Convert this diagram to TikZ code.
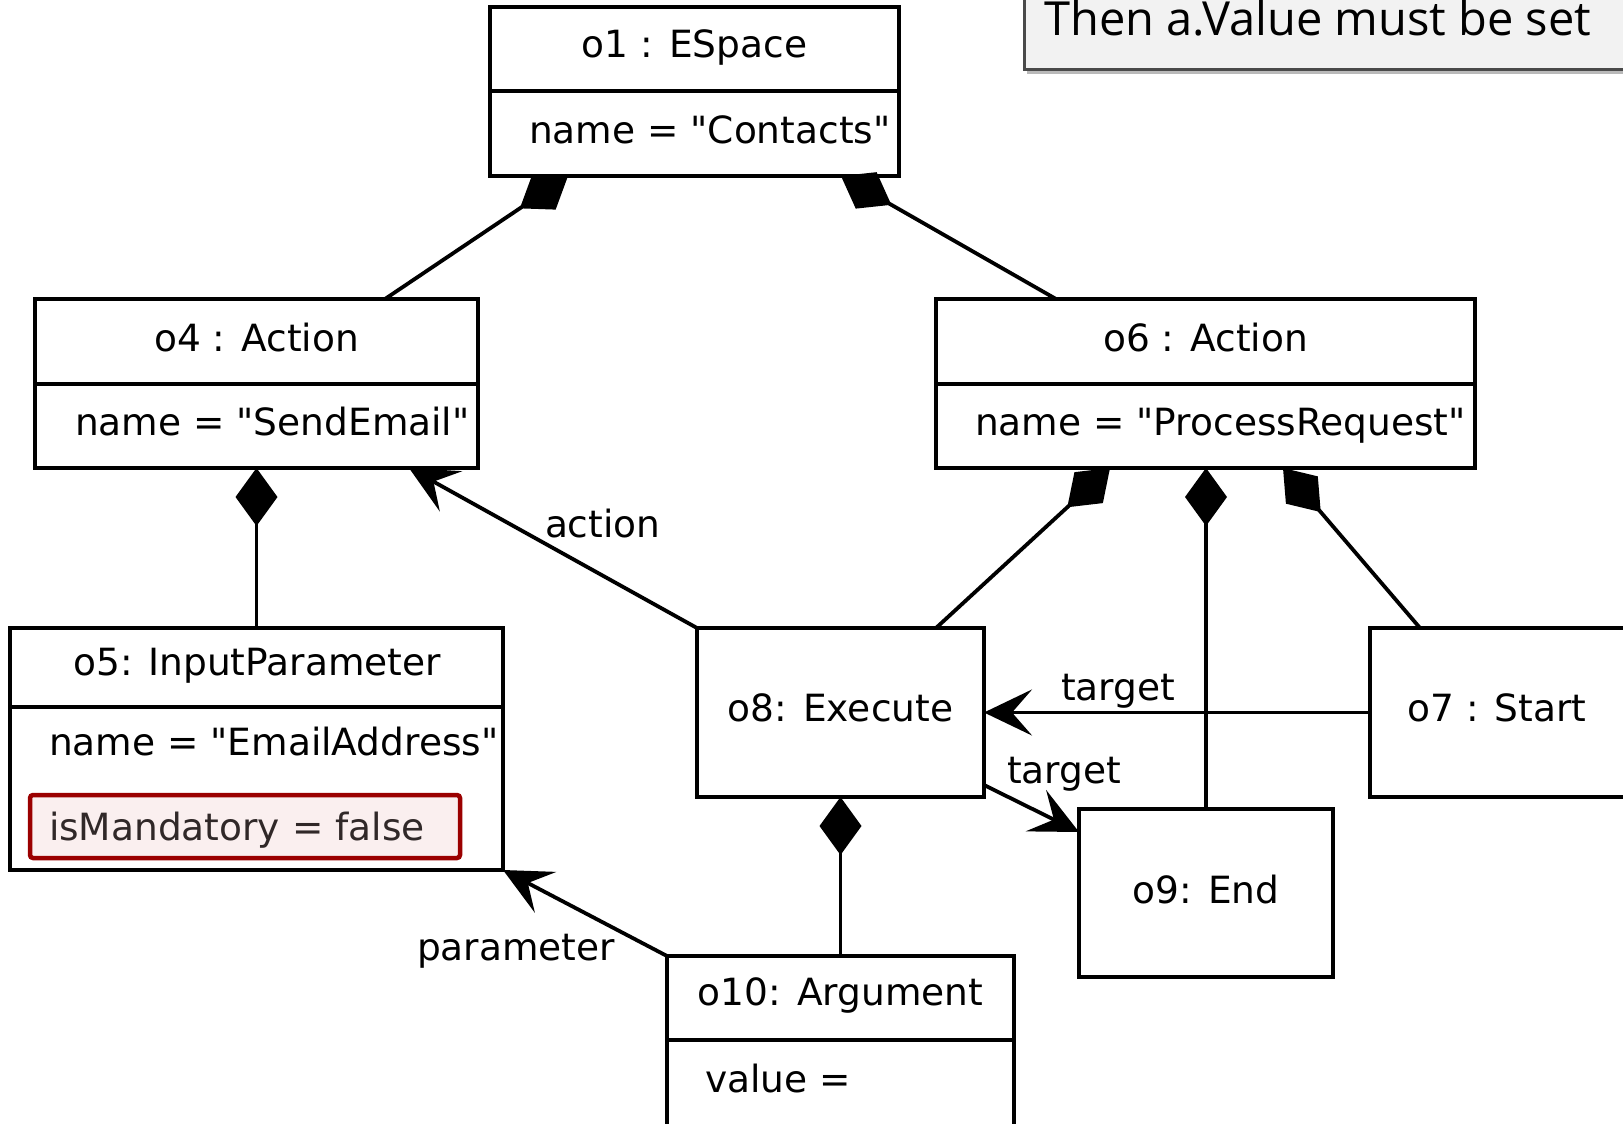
\documentclass[tikz,border=0pt]{standalone}
\usepackage{fontspec}
\setmainfont{DejaVu Sans}[Ligatures=TeXOff]
\newfontfamily\notefont{Open Sans}
\usetikzlibrary{arrows.meta}
\definecolor{redline}{HTML}{9B0000}
\definecolor{redfill}{HTML}{FAEFEF}
\definecolor{mandtext}{HTML}{302828}
\definecolor{notefill}{HTML}{F2F2F2}
\definecolor{noteline}{HTML}{4A4A4A}
\begin{document}
\begin{tikzpicture}[x=1pt,y=-1pt,
  box/.style={draw=black, line width=4.5pt, fill=white, inner sep=0pt, outer sep=0pt, rectangle},
  txt/.style={inner sep=0pt, outer sep=0pt, font=\fontsize{37.5}{44}\selectfont},
  comp/.style={line width=3.8pt, -{Diamond[length=58pt,width=42pt]}},
  nav/.style={line width=3.8pt, -{Stealth[length=48pt,width=46pt,inset=20pt]}},
]
\useasboundingbox (0,0) rectangle (1623,1124);
\clip (0,0) rectangle (1623,1124);
\fill[white] (0,0) rectangle (1623,1124);

% note
\fill[gray!55] (1027,-60) rectangle (1640,74);
\node[draw=noteline, fill=notefill, line width=3pt, inner sep=0pt, minimum width=620pt, minimum height=130pt] (note) at (1334,5) {};
\node[inner sep=0pt, anchor=base west, font=\notefont\fontsize{47}{56}\selectfont] (notetext) at (1044,36) {Then a.Value must be set};

% boxes
\node[box, minimum width=409pt, minimum height=84pt] (o1h) at (694.5,49) {};
\node[box, minimum width=409pt, minimum height=85pt] (o1b) at (694.5,133.5) {};
\node[box, minimum width=443pt, minimum height=85pt] (o4h) at (256.5,341.5) {};
\node[box, minimum width=443pt, minimum height=84pt] (o4b) at (256.5,426) {};
\node[box, minimum width=539pt, minimum height=85pt] (o6h) at (1205.5,341.5) {};
\node[box, minimum width=539pt, minimum height=84pt] (o6b) at (1205.5,426) {};
\node[box, minimum width=493pt, minimum height=79pt] (o5h) at (256.5,667.5) {};
\node[box, minimum width=493pt, minimum height=163pt] (o5b) at (256.5,788.5) {};
\node[box, minimum width=287pt, minimum height=169pt] (o8) at (840.5,712.5) {};
\node[box, minimum width=256pt, minimum height=169pt] (o7) at (1498,712.5) {};
\node[box, minimum width=254pt, minimum height=168pt] (o9) at (1206,893) {};
\node[box, minimum width=347pt, minimum height=84pt] (o10h) at (840.5,998) {};
\node[box, minimum width=347pt, minimum height=100pt] (o10b) at (840.5,1090) {};
\node[draw=redline, fill=redfill, line width=4.5pt, rounded corners=3pt, inner sep=0pt, minimum width=430pt, minimum height=63pt] (mand) at (245,826.5) {};

% texts
\node[txt, anchor=base] (t1) at (694.5,58) {o1 : ESpace};
\node[txt, anchor=base west] (a1) at (529,143) {name = "Contacts"};
\node[txt, anchor=base] (t4) at (256.5,351) {o4 : Action};
\node[txt, anchor=base west] (a4) at (75,435) {name = "SendEmail"};
\node[txt, anchor=base] (t6) at (1205.5,351) {o6 : Action};
\node[txt, anchor=base west] (a6) at (975,435) {name = "ProcessRequest"};
\node[txt, anchor=base] (t5) at (257,675) {o5: InputParameter};
\node[txt, anchor=base west] (a5) at (49,755) {name = "EmailAddress"};
\node[txt, anchor=base west, text=mandtext] (a5m) at (49,840) {isMandatory = false};
\node[txt, anchor=base] (t8) at (840.5,721) {o8: Execute};
\node[txt, anchor=base] (t7) at (1497,721) {o7 : Start};
\node[txt, anchor=base] (t9) at (1206,903) {o9: End};
\node[txt, anchor=base] (t10) at (840.5,1005) {o10: Argument};
\node[txt, anchor=base west] (a10) at (705,1092) {value =};

% composition connectors
\draw[comp] ([xshift=350pt]o4h.north west) -- ([xshift=78pt]o1b.south west);
\draw[comp] ([xshift=120pt]o6h.north west) -- ([xshift=351pt]o1b.south west);
\draw[comp] (o5h.north) -- (o4b.south);
\draw[comp] ([xshift=239pt]o8.north west) -- ([xshift=174pt]o6b.south west);
\draw[comp] (o9.north) -- (o9.north |- o6b.south);
\draw[comp] ([xshift=50pt]o7.north west) -- ([xshift=347pt]o6b.south west);
\draw[comp] (o10h.north) -- (o8.south);

% navigable associations
\draw[nav] (o8.north west) -- ([xshift=374pt]o4b.south west);
\node[txt, anchor=base west] (lact) at (545,537) {action};
\draw[nav] (o10h.north west) -- (o5b.south east);
\node[txt, anchor=base west] (lpar) at (417,960) {parameter};
\draw[nav] (o7.west) -- (o8.east);
\node[txt, anchor=base west] (ltg1) at (1061,700) {target};
\draw[nav] ([yshift=-72.5pt]o8.east) -- ([yshift=-23pt]o9.north west);
\node[txt, anchor=base west] (ltg2) at (1007,783) {target};
\end{tikzpicture}
\end{document}
